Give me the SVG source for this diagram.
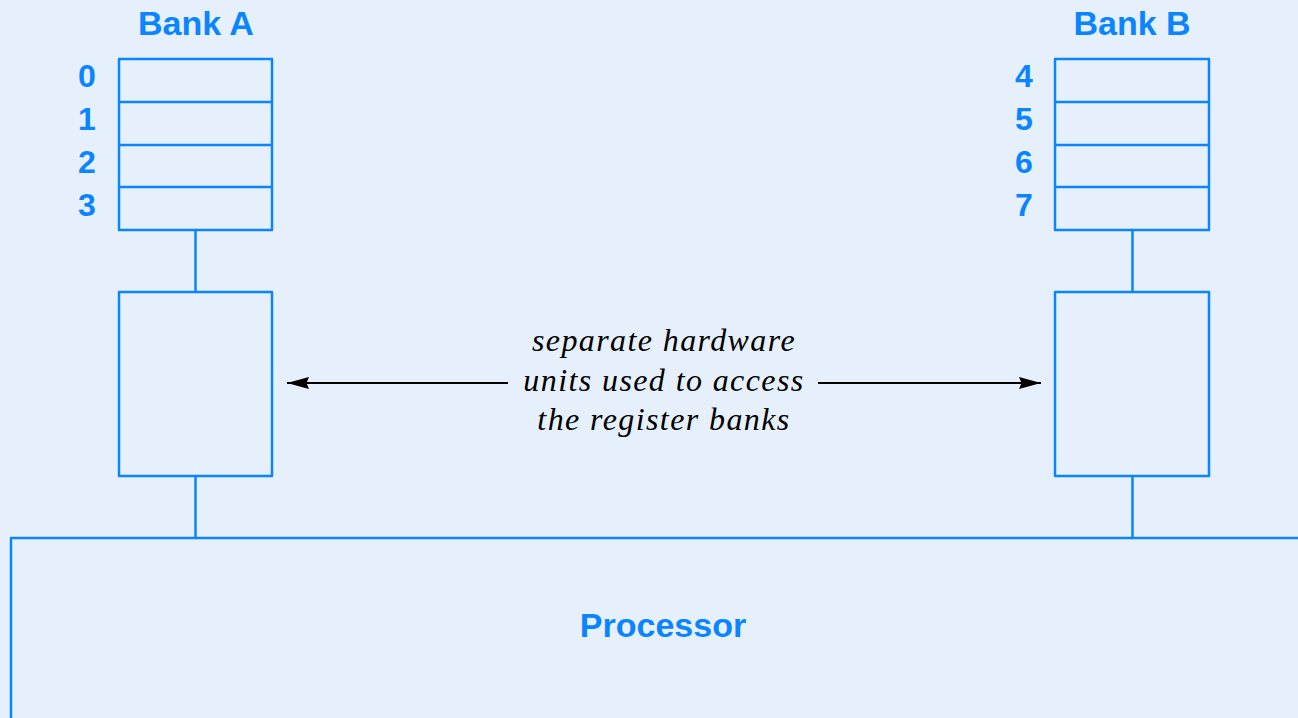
<svg xmlns="http://www.w3.org/2000/svg" width="1298" height="718" viewBox="0 0 1298 718">
<defs>
<style>
.box{fill:none;stroke:#0A84FF;stroke-width:2.5;stroke-linejoin:round}
.wire{stroke:#0A84FF;stroke-width:2.5;fill:none}
.lbl{font-family:"Liberation Sans",Arial,sans-serif;font-weight:bold;fill:#0A84FF}
.title{font-size:34px;text-anchor:middle}
.num{font-size:32px;text-anchor:middle}
.note{font-family:"Liberation Serif","Times New Roman",serif;font-style:italic;font-size:32px;letter-spacing:1.4px;text-anchor:middle;fill:#000}
.arrow{stroke:#000;stroke-width:1.8;fill:none}
</style>
<marker id="ah" viewBox="0 0 22 13" refX="22" refY="6.5" markerWidth="22" markerHeight="13" markerUnits="userSpaceOnUse" orient="auto">
<path d="M0,0.5 L22,6.5 L0,12.5 L2.5,6.5 Z" fill="#000"/>
</marker>
</defs>
<rect x="0" y="0" width="1298" height="718" fill="#E6F0FC"/>

<g id="bankA">
<text class="lbl title" x="196" y="35">Bank A</text>
<rect class="box" x="119" y="59" width="153" height="171"/>
<line class="wire" x1="119" y1="102" x2="272" y2="102"/>
<line class="wire" x1="119" y1="145" x2="272" y2="145"/>
<line class="wire" x1="119" y1="187" x2="272" y2="187"/>
<text class="lbl num" x="87" y="87">0</text>
<text class="lbl num" x="87" y="130">1</text>
<text class="lbl num" x="87" y="173">2</text>
<text class="lbl num" x="87" y="216">3</text>
</g>

<g id="bankB">
<text class="lbl title" x="1132" y="35">Bank B</text>
<rect class="box" x="1055" y="59" width="154" height="171"/>
<line class="wire" x1="1055" y1="102" x2="1209" y2="102"/>
<line class="wire" x1="1055" y1="145" x2="1209" y2="145"/>
<line class="wire" x1="1055" y1="187" x2="1209" y2="187"/>
<text class="lbl num" x="1024" y="87">4</text>
<text class="lbl num" x="1024" y="130">5</text>
<text class="lbl num" x="1024" y="173">6</text>
<text class="lbl num" x="1024" y="216">7</text>
</g>

<g id="unitA">
<rect class="box" x="119" y="292" width="153" height="184"/>
</g>
<g id="unitB">
<rect class="box" x="1055" y="292" width="154" height="184"/>
</g>

<g id="processor">
<path class="box" d="M11,720 L11,538 L1300,538"/>
<text class="lbl title" x="663" y="637">Processor</text>
</g>

<g id="note">
<text class="note" x="664" y="351">separate hardware</text>
<text class="note" x="664" y="391">units used to access</text>
<text class="note" x="664" y="430">the register banks</text>
</g>

<g id="connectors">
<line class="wire" x1="195.5" y1="230" x2="195.5" y2="292"/>
<line class="wire" x1="195.5" y1="476" x2="195.5" y2="538"/>
<line class="wire" x1="1132.5" y1="230" x2="1132.5" y2="292"/>
<line class="wire" x1="1132.5" y1="476" x2="1132.5" y2="538"/>
<line class="arrow" x1="508" y1="383" x2="287" y2="383" marker-end="url(#ah)"/>
<line class="arrow" x1="818" y1="383" x2="1041" y2="383" marker-end="url(#ah)"/>
</g>
</svg>
